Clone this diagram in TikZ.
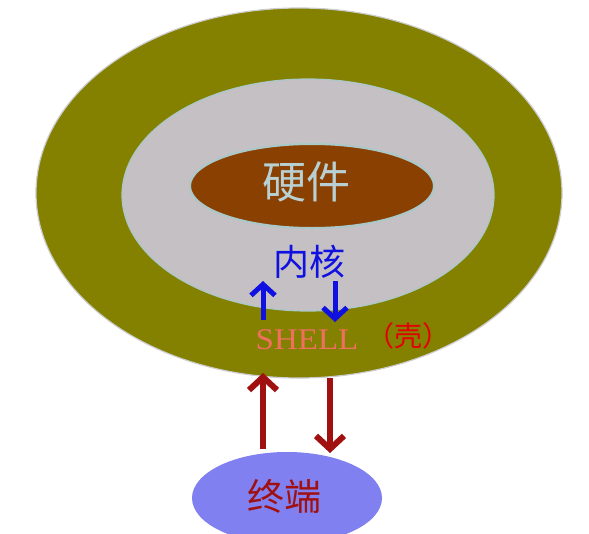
\documentclass[tikz,border=0pt]{standalone}
\usepackage{fontspec}
\setmainfont{Liberation Serif}
\newfontfamily\cjk{Noto Sans CJK SC}
\usetikzlibrary{shapes.geometric,arrows.meta}
\definecolor{olive}{RGB}{132,128,0}
\definecolor{kernelgray}{RGB}{196,192,196}
\definecolor{hwbrown}{RGB}{138,64,0}
\definecolor{rimgray}{RGB}{170,200,200}
\definecolor{hwtext}{RGB}{184,208,212}
\definecolor{termblue}{RGB}{128,128,240}
\definecolor{arrowred}{RGB}{160,16,16}
\definecolor{kernblue}{RGB}{16,16,224}
\definecolor{salmon}{RGB}{240,112,96}
\tikzset{
  ring/.style={ellipse,inner sep=0pt,line width=1.2pt},
  bluearrow/.style={kernblue,line width=5pt,-{Straight Barb[length=11pt,width=24pt]}},
  redarrow/.style={arrowred,line width=6pt,-{Straight Barb[length=13pt,width=28pt]}}
}
\begin{document}
\begin{tikzpicture}[x=1pt,y=-1pt]
    \useasboundingbox[fill=white] (0,0) rectangle (589,533);
    % three layers
    \node[ring,fill=olive,draw=gray!40,minimum width=526pt,minimum height=370pt] (shell) at (299,193) {};
    \node[ring,fill=kernelgray,draw=rimgray,minimum width=372pt,minimum height=232pt] (kernel) at (308,195) {};
    \node[ring,fill=hwbrown,draw=rimgray,line width=2pt,minimum width=244pt,minimum height=84pt] (hw) at (312,186) {};
    \node[text=hwtext,font=\cjk\fontsize{44}{44}\selectfont] (hwtext) at (306,182) {硬件};
    \node[text=kernblue,font=\cjk\fontsize{36}{36}\selectfont] (kerntext) at (309,262) {内核};
    \node[text=salmon,xscale=1.1,font=\fontsize{30}{30}\selectfont] (shelltext) at (307,340) {SHELL};
    \node[text=red!90!black,font=\cjk\fontsize{28}{28}\selectfont] (shellcn) at (408,336) {（壳）};
    % terminal
    \node[ellipse,fill=termblue,inner sep=0pt,minimum width=190pt,minimum height=92pt] (term) at (287,498) {};
    \node[text=arrowred,font=\cjk\fontsize{37}{37}\selectfont] (termtext) at (284,496) {终端};
    % arrows
    \coordinate (ku1) at (263,320);
    \coordinate (ku2) at (263,281);
    \coordinate (kd1) at (335,281);
    \coordinate (kd2) at (335,322);
    \draw[bluearrow] (ku1) -- (ku2);
    \draw[bluearrow] (kd1) -- (kd2);
    \coordinate (tu1) at (263,449);
    \coordinate (tu2) at (263,373);
    \coordinate (td1) at (330,378);
    \coordinate (td2) at (330,453);
    \draw[redarrow] (tu1) -- (tu2);
    \draw[redarrow] (td1) -- (td2);
\end{tikzpicture}
\end{document}
